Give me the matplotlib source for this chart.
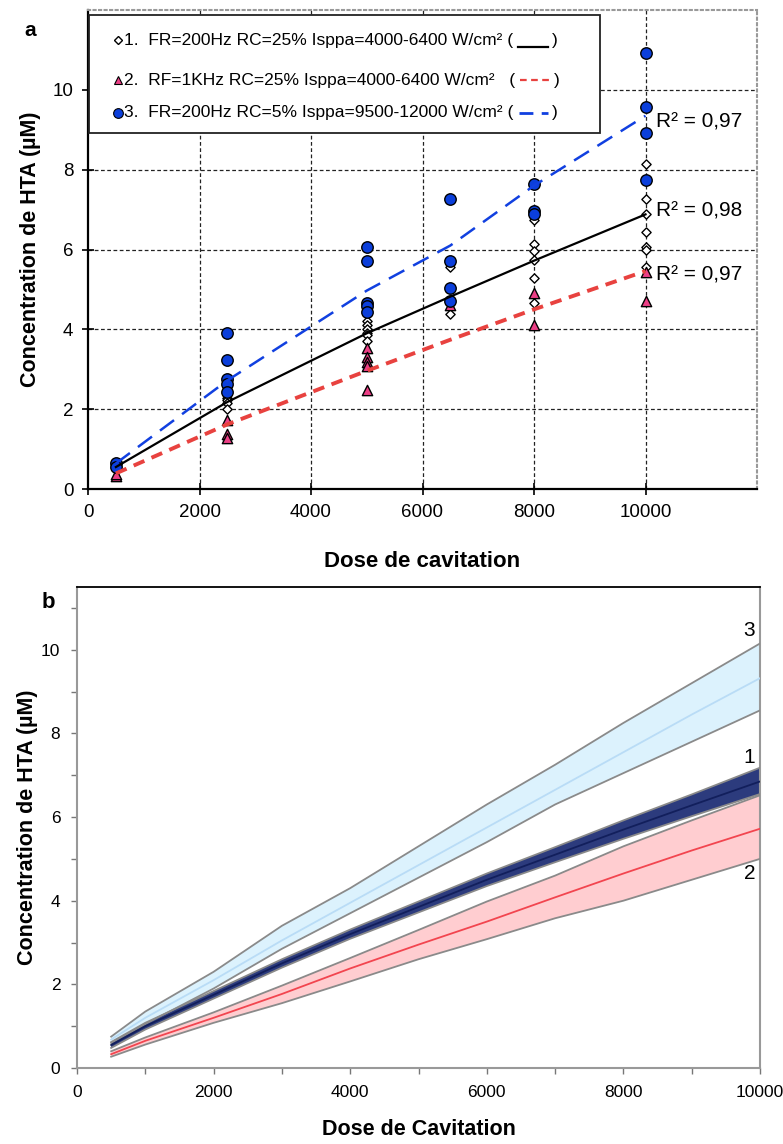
import numpy as np
import matplotlib
matplotlib.use('Agg')
import matplotlib.pyplot as plt
from matplotlib.patches import Rectangle
from matplotlib.lines import Line2D
from matplotlib.ticker import MultipleLocator

plt.rcParams['font.family'] = ['Liberation Sans', 'DejaVu Sans']

# ---- panel a : mesures ----
doses = [500, 2500, 5000, 6500, 8000, 10000]
s1_vals = [[0.5, 0.58, 0.62], [2.28, 2.22, 2.15, 2.0], [4.2, 4.1, 4.0, 3.92, 3.85, 3.72],
           [5.55, 4.38], [6.74, 6.14, 5.96, 5.74, 5.29, 4.66],
           [8.14, 7.27, 6.89, 6.43, 6.06, 5.99, 5.56]]
s2_vals = [[0.32, 0.38], [1.72, 1.39, 1.27], [3.52, 3.31, 3.18, 3.08, 2.48],
           [4.6], [4.91, 4.1], [5.43, 4.72]]
s3_vals = [[0.65, 0.55], [3.91, 3.22, 2.75, 2.64, 2.42], [6.06, 5.71, 4.66, 4.58, 4.43],
           [7.27, 5.71, 5.04, 4.71], [7.65, 6.97, 6.9], [10.92, 9.58, 8.93, 7.73]]
# courbes de tendance
trend1 = [0.55, 2.18, 3.9, 4.82, 5.72, 6.88]
trend2 = [0.39, 1.62, 2.96, 3.74, 4.5, 5.46]
trend3 = [0.64, 2.72, 4.97, 6.1, 7.6, 9.35]
r2_labels = ['R² = 0,98', 'R² = 0,97', 'R² = 0,97']
r2_pos = [6.96, 5.37, 9.2]
legend_labels = ['1.  FR=200Hz RC=25% Isppa=4000-6400 W/cm² (',
                 '2.  RF=1KHz RC=25% Isppa=4000-6400 W/cm²   (',
                 '3.  FR=200Hz RC=5% Isppa=9500-12000 W/cm² (']

# ---- panel b : intervalles ----
xb = [500, 1000, 2000, 3000, 4000, 5000, 6000, 7000, 8000, 9000, 10000]
b1_mid = [0.55, 1.0, 1.75, 2.5, 3.2, 3.85, 4.5, 5.1, 5.7, 6.28, 6.85]
b1_low = [0.48, 0.92, 1.66, 2.4, 3.09, 3.72, 4.35, 4.92, 5.48, 6.02, 6.55]
b1_up = [0.62, 1.08, 1.84, 2.6, 3.31, 3.98, 4.65, 5.28, 5.92, 6.54, 7.18]
b2_mid = [0.33, 0.65, 1.2, 1.77, 2.38, 2.95, 3.5, 4.08, 4.65, 5.2, 5.72]
b2_low = [0.27, 0.56, 1.08, 1.55, 2.07, 2.6, 3.08, 3.58, 4.0, 4.5, 5.0]
b2_up = [0.4, 0.73, 1.33, 1.97, 2.63, 3.3, 3.98, 4.6, 5.3, 5.92, 6.52]
b3_mid = [0.68, 1.2, 2.1, 3.05, 3.95, 4.85, 5.75, 6.65, 7.55, 8.45, 9.32]
b3_low = [0.6, 1.05, 1.9, 2.85, 3.7, 4.55, 5.4, 6.3, 7.05, 7.8, 8.55]
b3_up = [0.75, 1.35, 2.3, 3.4, 4.3, 5.3, 6.3, 7.25, 8.25, 9.2, 10.15]

fig = plt.figure(figsize=(7.83, 11.44), dpi=100)

# ================= panel a =================
ax = fig.add_axes([88/783, 1 - 489/1144, 669/783, 479/1144])
ax.set_xlim(0, 12000)
ax.set_ylim(0, 12)
ax.set_xticks(range(0, 10001, 2000))
ax.set_yticks(range(0, 11, 2))
for v in range(2000, 12000, 2000):
    ax.axvline(v, color='#222222', lw=0.9, ls=(0, (3, 2)), zorder=0)
for v in range(2, 12, 2):
    ax.axhline(v, color='#222222', lw=0.9, ls=(0, (3, 2)), zorder=0)
ax.tick_params(direction='inout', length=9, width=1.2, labelsize=13.5, pad=6)
for s in ['left', 'bottom']:
    ax.spines[s].set_linewidth(1.6)
for s in ['top', 'right']:
    ax.spines[s].set_color('#999999')
    ax.spines[s].set_linestyle(':')
    ax.spines[s].set_linewidth(1.5)

def expand(vals):
    xs, ys = [], []
    for d, vv in zip(doses, vals):
        xs += [d] * len(vv)
        ys += vv
    return xs, ys

x1, y1 = expand(s1_vals)
x2, y2 = expand(s2_vals)
x3, y3 = expand(s3_vals)
ax.scatter(x1, y1, marker='D', s=22, facecolor='white', edgecolor='black', lw=1.0, zorder=3)
ax.scatter(x2, y2, marker='^', s=55, facecolor='#ec3f86', edgecolor='black', lw=1.0, zorder=4)
ax.scatter(x3, y3, marker='o', s=68, facecolor='#0b3fdb', edgecolor='black', lw=1.0, zorder=5)

ax.plot(doses, trend1, color='black', lw=1.6, zorder=6)
ax.plot(doses, trend2, color='#e8423f', lw=2.8, ls=(0, (3, 2)), zorder=6)
ax.plot(doses, trend3, color='#1140e0', lw=1.8, ls=(0, (7, 4)), zorder=6)

for lab, yv in zip(r2_labels, r2_pos):
    ax.text(10180, yv, lab, fontsize=15, va='center', ha='left')

ax.set_xlabel('Dose de cavitation', fontsize=16, fontweight='bold', labelpad=22)
ax.set_ylabel('Concentration de HTA (µM)', fontsize=15.5, fontweight='bold', labelpad=8)
fig.text(30/783, 1 - 30/1144, 'a', fontsize=15, fontweight='bold', ha='center', va='center')

# legende construite a la main
lx0, ly0, lx1, ly1 = 1/669, (489-133)/479, (600-88)/669, (489-15)/479
ax.add_patch(Rectangle((lx0, ly0), lx1 - lx0, ly1 - ly0, transform=ax.transAxes,
                       facecolor='white', edgecolor='#222222', lw=1.3, zorder=8))
rows_y = [(489-40)/479, (489-80)/479, (489-113)/479]
mk = [dict(marker='D', ms=4.5, mfc='white', mec='black', mew=1.0),
      dict(marker='^', ms=6, mfc='#ec3f86', mec='black', mew=0.8),
      dict(marker='o', ms=7, mfc='#0b3fdb', mec='black', mew=0.8)]
line_st = [dict(color='black', lw=1.6, ls='-'),
           dict(color='#e8423f', lw=1.6, ls=(0, (3, 2))),
           dict(color='#1140e0', lw=2.0, ls=(0, (5, 3)))]
renderer = fig.canvas.get_renderer()
inv = ax.transAxes.inverted()
for i in range(3):
    ax.plot([(118-88)/669], [rows_y[i]], transform=ax.transAxes, zorder=9, **mk[i])
    t = ax.text((124-88)/669, rows_y[i], legend_labels[i], transform=ax.transAxes,
                fontsize=12.5, va='center', ha='left', zorder=9)
    bb = t.get_window_extent(renderer)
    xe = inv.transform((bb.x1, bb.y0))[0]
    yl = [rows_y[i] - 0.014] * 2 if i == 0 else [rows_y[i]] * 2
    ax.add_line(Line2D([xe + 0.008, xe + 0.052], yl, transform=ax.transAxes, zorder=9, **line_st[i]))
    ax.text(xe + 0.058, rows_y[i], ')', transform=ax.transAxes, fontsize=12.5,
            va='center', ha='left', zorder=9)

# ================= panel b =================
bx = fig.add_axes([77/783, 1 - 1068/1144, 683/783, 481/1144])
bx.set_xlim(0, 10000)
bx.set_ylim(0, 11.5)
bx.xaxis.set_major_locator(MultipleLocator(2000))
bx.xaxis.set_minor_locator(MultipleLocator(1000))
bx.yaxis.set_major_locator(MultipleLocator(2))
bx.yaxis.set_minor_locator(MultipleLocator(1))
bx.set_yticks(range(0, 11, 2))
bx.tick_params(which='both', direction='out', color='#777777', width=1.0, length=4,
               labelsize=12.5, pad=8)
bx.spines['top'].set_color('black')
bx.spines['top'].set_linewidth(1.3)
for s in ['left', 'bottom', 'right']:
    bx.spines[s].set_color('#999999')
    bx.spines[s].set_linewidth(1.5)

bands = [(b3_low, b3_mid, b3_up, '#dcf2fd', '#b9dcf6'),
         (b2_low, b2_mid, b2_up, '#ffcdd0', '#f2454f'),
         (b1_low, b1_mid, b1_up, '#2c3b7d', '#121f5c')]
for lo, mid, up, fc, lc in bands:
    bx.fill_between(xb, lo, up, facecolor=fc, edgecolor='none', zorder=2)
    bx.plot(xb, lo, color='#8a8a8a', lw=1.3, zorder=3)
    bx.plot(xb, up, color='#8a8a8a', lw=1.3, zorder=3)
    bx.plot(xb, mid, color=lc, lw=1.3, zorder=4)

bx.text(9930, 10.47, '3', fontsize=15, ha='right', va='center')
bx.text(9930, 7.43, '1', fontsize=15, ha='right', va='center')
bx.text(9930, 4.66, '2', fontsize=15, ha='right', va='center')

bx.set_xlabel('Dose de Cavitation', fontsize=15.5, fontweight='bold', labelpad=14)
bx.set_ylabel('Concentration de HTA (µM)', fontsize=15.5, fontweight='bold', labelpad=2)
fig.text(48/783, 1 - 603/1144, 'b', fontsize=16, fontweight='bold', ha='center', va='center')

fig.savefig('out.png', dpi=100)
